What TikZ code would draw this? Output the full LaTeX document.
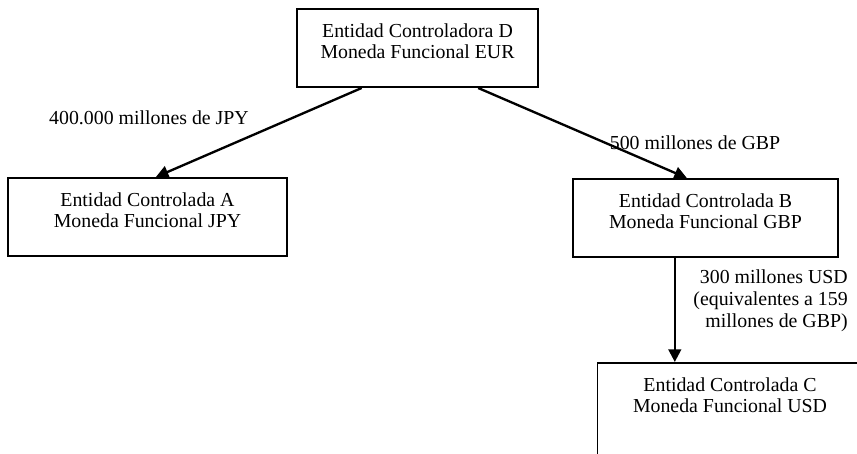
\documentclass[tikz,border=0pt]{standalone}
\usepackage{fontspec}
\setmainfont{Liberation Serif}
\usetikzlibrary{
	arrows.meta,
	positioning,
	calc
}
\tikzset{
  % arrow
	cstra/.style      ={-{Triangle[length=8pt,width=8pt]}, line width=1.5pt},
  % node
	cstbox/.style     ={draw=black,line width=1.2pt,align=center,anchor=north,inner xsep=0pt,inner ysep=0pt,text height=32pt,text depth=18pt},
	cstboxd/.style    ={cstbox,minimum width=154.2pt},
	cstboxa/.style    ={cstbox,minimum width=178.6pt},
	cstboxb/.style    ={cstbox,minimum width=169.6pt},
	cstboxc/.style    ={cstboxb,text depth=66pt},
	csttext/.style    ={align=right,inner sep=0pt}
}

\begin{document}
\begin{tikzpicture}[x=0.64pt,y=-0.64pt,font=\fontsize{12.7}{14}\selectfont]
			\clip (0,0) rectangle (857,454);
			% entidades
			\node[cstboxd] (D) at (417.5,8) {Entidad Controladora D\\Moneda Funcional EUR};
			\node[cstboxa] (A) at (147.5,177) {Entidad Controlada A\\Moneda Funcional JPY};
			\node[cstboxb] (B) at (705.5,178) {Entidad Controlada B\\Moneda Funcional GBP};
			\node[cstboxc] (C) at (730,362) {Entidad Controlada C\\Moneda Funcional USD};
			% importes
			\node[csttext] (jpy) at (149,118) {400.000 millones de JPY};
			\node[csttext] (gbp) at (695,143) {500 millones de GBP};
			\node[csttext,anchor=east] (usd) at (848,301) {300 millones USD\\(equivalentes a 159\\millones de GBP)};
			% inversiones
			\draw[cstra] ($(D.south west)!.27!(D.south east)$)--($(A.north west)!.53!(A.north east)$);
			\draw[cstra] ($(D.south west)!.75!(D.south east)$)--($(B.north west)!.43!(B.north east)$);
			\coordinate (Bs) at ($(B.south west)!.385!(B.south east)$);
			\draw[cstra] (Bs)--(Bs |- C.north);
		\end{tikzpicture}
\end{document}
